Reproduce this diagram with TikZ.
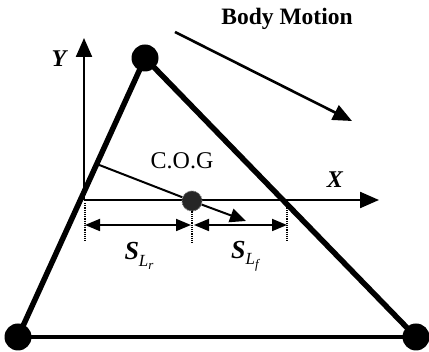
\documentclass[tikz,border=0pt]{standalone}
\usepackage{fontspec}
\setmainfont{Liberation Serif}
\usepackage{tikz}
\usetikzlibrary{arrows.meta,positioning,calc}

\begin{document}
\begin{tikzpicture}[x=1pt,y=-1pt,
    edge/.style={line width=5.5pt, line cap=round},
    base/.style={line width=4pt},
    axis/.style={line width=2.2pt, -{Triangle[length=19pt,width=16pt]}},
    dim/.style={line width=1.8pt, {Triangle[length=15pt,width=12pt]}-{Triangle[length=15pt,width=12pt]}},
    guide/.style={line width=1.2pt, densely dotted},
    wheel/.style={circle, fill=black, minimum size=27pt, inner sep=0pt},
    cogdot/.style={circle, fill=black!85, draw=black!60, densely dotted, line width=1pt, minimum size=20pt, inner sep=0pt},
    axlabel/.style={font=\fontsize{24}{24}\selectfont\bfseries\itshape},
    txt/.style={font=\fontsize{24}{24}\selectfont},
]
\useasboundingbox (0,0) rectangle (429,352);

% vehicle frame
\coordinate (top) at (145,58);
\coordinate (rl) at (18,337);
\coordinate (rr) at (416,337);
\draw[edge] (rl) -- (top) -- (rr);
\draw[base] (rl) -- (rr);
\node[wheel] (wtop) at (top) {};
\node[wheel] (wrl) at (rl) {};
\node[wheel] (wrr) at (rr) {};

% axes
\coordinate (o) at (84,200);
\coordinate (ytip) at (84,38);
\coordinate (xtip) at (379,200);
\draw[axis] (o) -- (ytip);
\draw[axis] (o) -- (xtip);
\node[axlabel] (ylab) at (59,59) {Y};
\node[axlabel] (xlab) at (335,180) {X};

% centre of gravity
\node[cogdot] (cog) at (192,201) {};
\node[txt] (coglab) at (182,161) {C.O.G};
\coordinate (onedge) at ($(top)!0.38!(rl)$);
\draw[line width=2pt] (onedge) -- (cog);
\coordinate (cogtip) at (246,221);
\draw[line width=2pt, -{Triangle[length=16pt,width=14pt]}] (cog) -- (cogtip);

% body motion
\node[font=\fontsize{23.5}{23.5}\selectfont\bfseries] (bm) at (287,19) {Body Motion};
\coordinate (bmstart) at (175,32);
\coordinate (bmend) at (352,121);
\draw[line width=2.6pt, -{Triangle[length=19pt,width=16pt]}] (bmstart) -- (bmend);

% distances
\coordinate (dl) at (85,203);
\coordinate (dr) at (287,203);
\draw[guide] (dl) -- ++(0,38);
\draw[guide] (cog.south) -- ++(0,31);
\draw[guide] (dr) -- ++(0,38);
\coordinate (dl1) at (85,225);
\coordinate (dm1) at (191,225);
\coordinate (dm2) at (194,225);
\coordinate (dr1) at (287,225);
\draw[dim] (dl1) -- (dm1);
\draw[dim] (dm2) -- (dr1);
\node[font=\fontsize{26}{26}\selectfont\bfseries\itshape] (slr) at (139,256)
  {S\raisebox{-0.25em}{\fontsize{17}{17}\selectfont\mdseries L\raisebox{-0.2em}{\fontsize{13}{13}\selectfont r}}};
\node[font=\fontsize{26}{26}\selectfont\bfseries\itshape] (slf) at (245,256)
  {S\raisebox{-0.25em}{\fontsize{17}{17}\selectfont\mdseries L\raisebox{-0.2em}{\fontsize{13}{13}\selectfont f}}};

\end{tikzpicture}
\end{document}
